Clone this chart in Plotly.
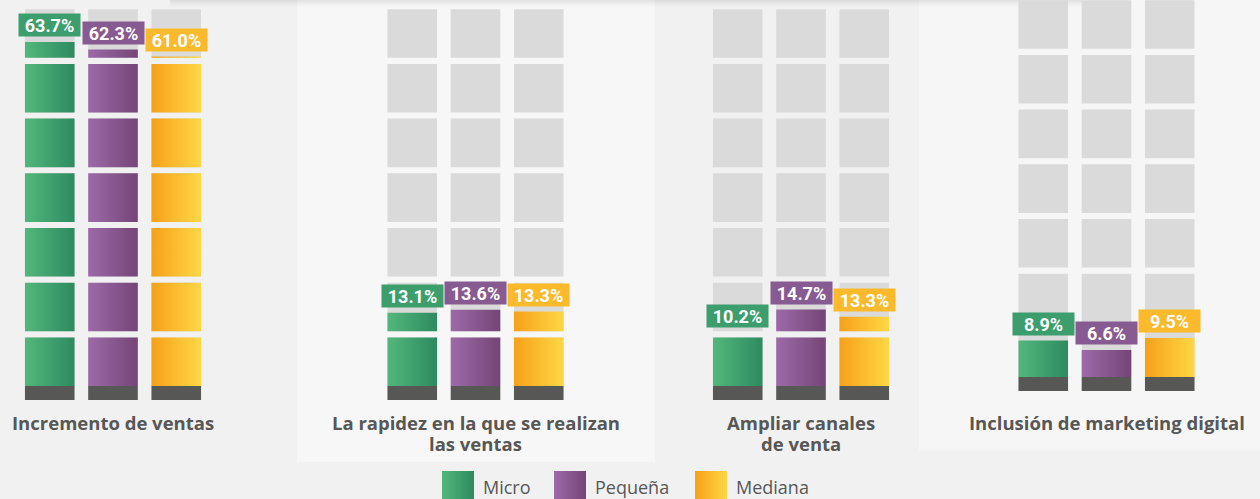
import plotly.graph_objects as go

# ---------------- data ----------------
categories = [
    "Incremento de ventas",
    "La rapidez en la que se realizan<br>las ventas",
    "Ampliar canales<br>de venta",
    "Inclusión de marketing digital",
]
series = ["Micro", "Pequeña", "Mediana"]
micro = [63.7, 13.1, 10.2, 8.9]
pequena = [62.3, 13.6, 14.7, 6.6]
mediana = [61.0, 13.3, 13.3, 9.5]
values = [micro, pequena, mediana]

# ---------------- styles / layout ----------------
W, HF = 1260, 499
scale_px = [5.4, 5.6, 5.2, 4.1]   # px per percentage point, per panel (as in the infographic)
zero_px = [386, 386, 386, 377]    # pixel row of each panel's zero line
centers = [113, 475.5, 801, 1106.5]
col_pitch = 63.25
half = 0.392
N_BLOCKS = 7
PITCH_PX, BLOCK_PX, BASE_PX = 54.7, 48.6, 14
LABEL_ROW_PX, LABEL_LINE_PX = 422, 21.5

grad = {
    "Micro": ["#52b77c", "#2e8a60"],
    "Pequeña": ["#9d6aa8", "#744577"],
    "Mediana": ["#f6a11a", "#fed745"],
}
label_bg = {"Micro": "#3c9e6d", "Pequeña": "#875a91", "Mediana": "#fbb92c"}
GREY = "#dadada"
DARK = "#575756"
TXT = "#575756"

fig = go.Figure()
annotations = []

for g, cat in enumerate(categories):
    sfx = "" if g == 0 else str(g + 1)
    xa, ya = "x" + sfx, "y" + sfx
    S = scale_px[g]
    P, BH, BASE = PITCH_PX / S, BLOCK_PX / S, BASE_PX / S
    # grey background blocks
    for k in range(N_BLOCKS):
        fig.add_trace(go.Bar(
            x=[0, 1, 2], y=[BH] * 3, base=[k * P] * 3, width=2 * half,
            marker=dict(color=GREY, line=dict(width=0)),
            xaxis=xa, yaxis=ya, showlegend=False, hoverinfo="skip"))
    # dark base
    fig.add_trace(go.Bar(
        x=[0, 1, 2], y=[BASE] * 3, base=[-BASE] * 3, width=2 * half,
        marker=dict(color=DARK, line=dict(width=0)),
        xaxis=xa, yaxis=ya, showlegend=False, hoverinfo="skip"))
    # coloured fill clipped to the block shapes
    for i, name in enumerate(series):
        v = values[i][g]
        xs, ys = [], []
        for k in range(N_BLOCKS):
            lo = k * P
            hi = min(lo + BH, v)
            if hi > lo:
                xs += [i - half, i + half, i + half, i - half, i - half, None]
                ys += [lo, lo, hi, hi, lo, None]
        fig.add_trace(go.Scatter(
            x=xs, y=ys, mode="lines", fill="toself", line=dict(width=0),
            fillgradient=dict(type="horizontal",
                              colorscale=[[0, grad[name][0]], [1, grad[name][1]]]),
            xaxis=xa, yaxis=ya, showlegend=False, hoverinfo="skip"))
        annotations.append(dict(
            x=i, y=v, xref=xa, yref=ya, text=f"<b>{v:.1f}%</b>", showarrow=False,
            yanchor="bottom", yshift=5, width=61, height=22, borderpad=0,
            bgcolor=label_bg[name],
            font=dict(family="Roboto", size=18, color="white")))
    c = centers[g]
    fig.update_layout(**{
        "xaxis" + sfx: dict(domain=[(c - 1.5 * col_pitch) / W, (c + 1.5 * col_pitch) / W],
                            range=[-0.5, 2.5], visible=False, anchor=ya, fixedrange=True),
        "yaxis" + sfx: dict(domain=[0, 1], range=[(zero_px[g] - HF) / S, zero_px[g] / S],
                            visible=False, anchor=xa, fixedrange=True),
    })
    for li, line in enumerate(cat.split("<br>")):
        annotations.append(dict(
            x=c / W, y=1 - (LABEL_ROW_PX + li * LABEL_LINE_PX) / HF,
            xref="paper", yref="paper", text=f"<b>{line}</b>",
            showarrow=False, xanchor="center", yanchor="middle", align="center",
            font=dict(family="Open Sans", size=18.5, color=TXT)))

# ---------------- legend (custom swatches) ----------------
leg_x = [442, 554, 695]
fig.update_layout(
    xaxis5=dict(domain=[0, 1], range=[0, W], visible=False, anchor="y5", fixedrange=True),
    yaxis5=dict(domain=[0, 1], range=[HF, 0], visible=False, anchor="x5", fixedrange=True),
)
for name, x0 in zip(series, leg_x):
    fig.add_trace(go.Scatter(
        x=[x0, x0 + 32, x0 + 32, x0, x0], y=[471, 471, 505, 505, 471],
        mode="lines", fill="toself", line=dict(width=0),
        fillgradient=dict(type="horizontal",
                          colorscale=[[0, grad[name][0]], [1, grad[name][1]]]),
        xaxis="x5", yaxis="y5", showlegend=False, hoverinfo="skip"))
    annotations.append(dict(
        x=(x0 + 39) / W, y=1 - 487 / HF, xref="paper", yref="paper", text=name,
        showarrow=False, xanchor="left", yanchor="middle",
        font=dict(family="Open Sans", size=18, color=TXT)))

# ---------------- background panels & top shadow ----------------
shapes = [
    dict(type="rect", xref="paper", yref="paper", x0=297 / W, x1=655 / W,
         y0=1 - 462 / HF, y1=1, fillcolor="#f7f7f7", line=dict(width=0), layer="below"),
    dict(type="rect", xref="paper", yref="paper", x0=919 / W, x1=1,
         y0=1 - 450 / HF, y1=1, fillcolor="#f6f6f6", line=dict(width=0), layer="below"),
]
for j, op in enumerate([0.08, 0.05, 0.03, 0.015]):
    shapes.append(dict(type="rect", xref="paper", yref="paper",
                       x0=170 / W, x1=1082 / W, y0=1 - (j + 1) * 1.6 / HF, y1=1 - j * 1.6 / HF,
                       fillcolor=f"rgba(0,0,0,{op})", line=dict(width=0), layer="below"))

fig.update_layout(
    width=W, height=HF, margin=dict(l=0, r=0, t=0, b=0),
    paper_bgcolor="#f1f1f1", plot_bgcolor="rgba(0,0,0,0)",
    barmode="overlay", showlegend=False,
    annotations=annotations, shapes=shapes,
)

fig.write_html(
    "out.html",
    config={"displayModeBar": False},
    post_script="document.body.style.margin='0';document.body.style.overflow='hidden';",
)
